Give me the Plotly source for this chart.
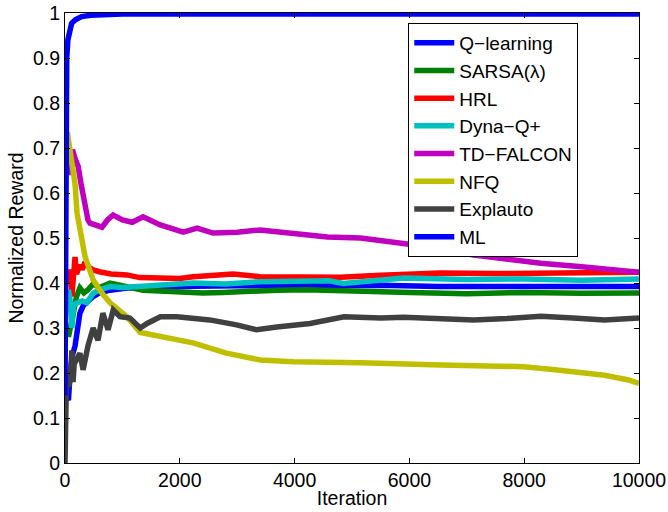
import plotly.graph_objects as go

# Normalized reward per learning method over 10000 iterations
q_x = [0, 60, 90, 130, 175, 220, 260, 320, 400, 490, 600, 785, 1080, 1500, 2230, 3000, 4000,
       4800, 5500, 6500, 7120, 8000, 9000, 10000]
q_y = [0.15, 0.14, 0.2, 0.24, 0.26, 0.30, 0.333, 0.35, 0.36, 0.37, 0.378, 0.384, 0.389, 0.391,
       0.393, 0.394, 0.395, 0.397, 0.395, 0.392, 0.392, 0.391, 0.392, 0.392]

sarsa_x = [60, 100, 140, 200, 260, 330, 400, 490, 600, 785, 1000, 1360, 1650, 1950, 2400, 2750,
           3200, 3700, 4200, 4800, 5500, 6000, 7000, 8000, 9000, 10000]
sarsa_y = [0.28, 0.30, 0.33, 0.37, 0.389, 0.378, 0.385, 0.398, 0.39, 0.40, 0.395, 0.384, 0.382,
           0.38, 0.378, 0.379, 0.382, 0.384, 0.385, 0.384, 0.382, 0.379, 0.376, 0.379, 0.377, 0.378]

hrl_x = [60, 90, 120, 150, 175, 200, 230, 260, 300, 350, 420, 490, 600, 800, 1080, 1300, 1660,
         2000, 2230, 2600, 2930, 3400, 4000, 4800, 5500, 6540, 7500, 8500, 10000]
hrl_y = [0.40, 0.43, 0.37, 0.42, 0.458, 0.42, 0.43, 0.44, 0.43, 0.447, 0.435, 0.429, 0.425, 0.42,
         0.418, 0.412, 0.411, 0.41, 0.414, 0.416, 0.42, 0.414, 0.413, 0.413, 0.417, 0.422, 0.421,
         0.423, 0.424]

dyna_x = [60, 90, 120, 150, 200, 300, 380, 490, 600, 785, 1000, 1360, 1800, 2230, 2800, 3400,
          4000, 4600, 4850, 5200, 5900, 7000, 8000, 9000, 10000]
dyna_y = [0.385, 0.36, 0.30, 0.35, 0.355, 0.36, 0.356, 0.377, 0.385, 0.392, 0.39, 0.393, 0.397,
          0.40, 0.398, 0.403, 0.404, 0.405, 0.399, 0.403, 0.411, 0.408, 0.409, 0.406, 0.409]

falcon_x = [50, 90, 130, 180, 230, 280, 350, 400, 436, 520, 645, 740, 838, 1000, 1170, 1360,
            1660, 2060, 2300, 2580, 3000, 3400, 3980, 4570, 5150, 5900, 6500, 7120, 7700, 8290,
            9000, 10000]
falcon_y = [0.64, 0.68, 0.696, 0.675, 0.659, 0.62, 0.57, 0.54, 0.533, 0.53, 0.524, 0.54, 0.551,
            0.54, 0.535, 0.547, 0.529, 0.513, 0.522, 0.511, 0.513, 0.518, 0.511, 0.502, 0.500,
            0.489, 0.478, 0.462, 0.452, 0.444, 0.436, 0.424]

nfq_x = [40, 70, 120, 175, 210, 280, 350, 490, 645, 785, 1080, 1310, 1500, 1660, 2230, 2810,
         3400, 3980, 4800, 5150, 6540, 7990, 8500, 8850, 9400, 9800, 10000]
nfq_y = [0.735, 0.71, 0.67, 0.62, 0.555, 0.50, 0.458, 0.407, 0.377, 0.356, 0.325, 0.29, 0.285,
         0.28, 0.267, 0.244, 0.229, 0.225, 0.225, 0.223, 0.218, 0.214, 0.208, 0.203, 0.195,
         0.185, 0.177]

explauto_x = [0, 5, 20, 40, 60, 90, 120, 140, 160, 200, 260, 315, 400, 490, 575, 660, 750, 840,
              960, 1130, 1310, 1430, 1660, 1950, 2520, 2990, 3340, 3690, 4270, 4860, 5500, 5900,
              6500, 7120, 7700, 8290, 8850, 9400, 10000]
explauto_y = [0.0, 0.15, 0.15, 0.20, 0.17, 0.184, 0.25, 0.18, 0.22, 0.23, 0.244, 0.207, 0.26,
              0.30, 0.273, 0.333, 0.296, 0.34, 0.325, 0.322, 0.30, 0.31, 0.325, 0.325, 0.318,
              0.307, 0.296, 0.302, 0.31, 0.325, 0.322, 0.324, 0.322, 0.318, 0.321, 0.326, 0.322,
              0.318, 0.322]

ml_x = [0, 10, 20, 30, 50, 80, 115, 180, 290, 450, 700, 1000, 2000, 5000, 10000]
ml_y = [0.15, 0.5, 0.8, 0.9, 0.94, 0.96, 0.977, 0.985, 0.992, 0.995, 0.997, 0.998, 0.998,
        0.998, 0.998]

x_ticks = [0, 2000, 4000, 6000, 8000, 10000]
x_tick_text = ["0", "2000", "4000", "6000", "8000", "10000"]
y_ticks = [0, 0.1, 0.2, 0.3, 0.4, 0.5, 0.6, 0.7, 0.8, 0.9, 1]
y_tick_text = ["0", "0.1", "0.2", "0.3", "0.4", "0.5", "0.6", "0.7", "0.8", "0.9", "1"]

series = [
    ("Q\u2212learning", q_x, q_y, "#0000FF"),
    ("SARSA(\u03bb)", sarsa_x, sarsa_y, "#008000"),
    ("HRL", hrl_x, hrl_y, "#FF0000"),
    ("Dyna\u2212Q+", dyna_x, dyna_y, "#00BFBF"),
    ("TD\u2212FALCON", falcon_x, falcon_y, "#BF00BF"),
    ("NFQ", nfq_x, nfq_y, "#BFBF00"),
    ("Explauto", explauto_x, explauto_y, "#404040"),
    ("ML", ml_x, ml_y, "#0000FF"),
]

fig = go.Figure()
for name, xs, ys, color in series:
    fig.add_trace(go.Scatter(x=xs, y=ys, mode="lines", name=name,
                             line=dict(color=color, width=5.5)))

font_family = "Liberation Sans, Arial, sans-serif"
axis_common = dict(
    showline=True, linecolor="black", linewidth=1, mirror="allticks",
    ticks="inside", ticklen=5, tickcolor="black", tickwidth=1,
    showgrid=False, zeroline=False, automargin=False,
    tickfont=dict(family=font_family, size=19.5, color="black"),
)

fig.update_layout(
    width=668, height=512,
    margin=dict(l=65, r=29, t=13, b=49),
    paper_bgcolor="white", plot_bgcolor="white",
    font=dict(family=font_family, size=20, color="black"),
    xaxis=dict(range=[0, 10000], tickvals=x_ticks, ticktext=x_tick_text,
               title=dict(text="Iteration", font=dict(size=19.5), standoff=0),
               **axis_common),
    yaxis=dict(range=[0, 1], tickvals=y_ticks, ticktext=y_tick_text,
               title=dict(text="Normalized Reward", font=dict(size=19.5), standoff=4),
               **axis_common),
    legend=dict(x=0.598, y=0.978, xanchor="left", yanchor="top",
                bgcolor="white", bordercolor="black", borderwidth=1,
                font=dict(family=font_family, size=19, color="black"),
                itemwidth=40, tracegroupgap=0),
    showlegend=True,
)

fig.write_html("out.html")
